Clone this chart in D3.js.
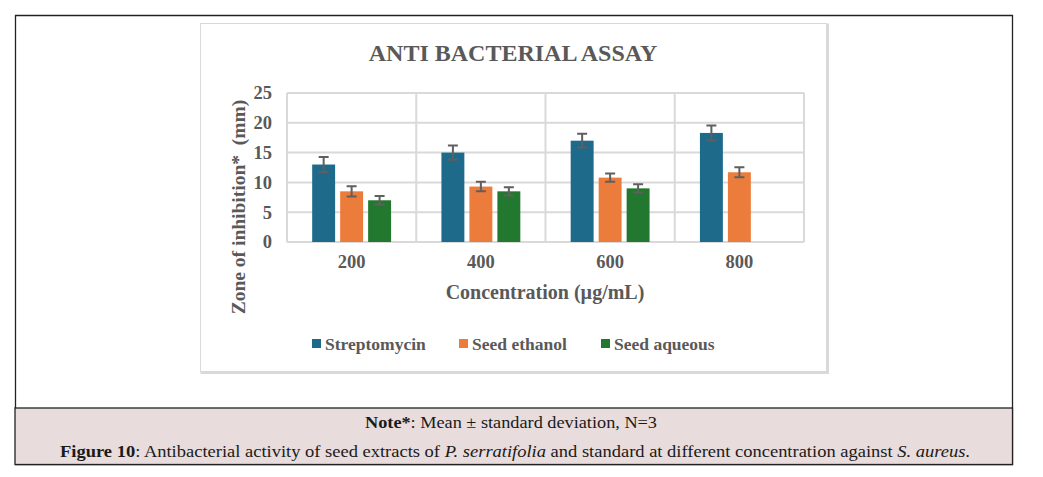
<!DOCTYPE html>
<html>
<head>
<meta charset="utf-8">
<script src="https://cdn.jsdelivr.net/npm/d3@7"></script>
<style>
  body { margin: 0; background: #fff; }
  svg { display: block; }
</style>
</head>
<body>
<svg id="fig" width="1043" height="477"></svg>
<script>
// concentrations (ug/mL) and the three extracts
var concentrations = ['200', '400', '600', '800'];
var seriesNames = ['Streptomycin', 'Seed ethanol', 'Seed aqueous'];
var seriesColors = ['#1d6a8b', '#ec7c3b', '#22782e'];

// mean zone of inhibition (mm), null where no bar was drawn
var streptomycin = [13.0, 15.0, 17.0, 18.3];
var seedEthanol = [8.5, 9.3, 10.8, 11.7];
var seedAqueous = [7.0, 8.5, 9.0, null];

// standard deviations
var streptomycinSd = [1.25, 1.2, 1.15, 1.25];
var seedEthanolSd = [0.85, 0.8, 0.7, 0.85];
var seedAqueousSd = [0.7, 0.7, 0.7, null];

var yTicks = [0, 5, 10, 15, 20, 25];

var svg = d3.select('#fig');
var serif = '"Liberation Serif", "Times New Roman", serif';
var grey = '#595959';

// outer page frame
svg.append('path')
  .attr('d', 'M15.5 408 V15.5 H1012.5 V464.5 H15')
  .style('fill', 'none').style('stroke', '#222').style('stroke-width', 1.3);

// caption strip
svg.append('rect')
  .attr('x', 15).attr('y', 408).attr('width', 997.5).attr('height', 56.5)
  .style('fill', '#e8dcdc').style('stroke', '#222').style('stroke-width', 1.3);

// chart box, heavier at right/bottom like a shadow
svg.append('rect')
  .attr('x', 200.5).attr('y', 23.5).attr('width', 626).attr('height', 348)
  .style('fill', '#fff').style('stroke', '#d9d9d9').style('stroke-width', 1);
svg.append('path')
  .attr('d', 'M827.5 23.5 V372.5 H200.5')
  .style('fill', 'none').style('stroke', '#d9d9d9').style('stroke-width', 3);

svg.append('text')
  .attr('x', 513).attr('y', 61)
  .attr('text-anchor', 'middle')
  .style('font-family', serif).style('font-weight', 'bold')
  .style('font-size', '24px').style('fill', grey)
  .text('ANTI BACTERIAL ASSAY');

// scales
var plot = { left: 287, right: 804, top: 93, bottom: 242 };

var x0 = d3.scaleBand()
  .domain(concentrations)
  .range([plot.left, plot.right]);

var x1 = d3.scaleBand()
  .domain(seriesNames)
  .range([0, x0.bandwidth()])
  .paddingInner(0.18)
  .paddingOuter(0.9);

var y = d3.scaleLinear()
  .domain([0, 25])
  .range([plot.bottom, plot.top]);

var color = d3.scaleOrdinal().domain(seriesNames).range(seriesColors);

// gridlines
var grid = svg.append('g').attr('id', 'grid');
grid.selectAll('line.h')
  .data(yTicks)
  .enter().append('line')
  .classed('h', true)
  .attr('x1', plot.left).attr('x2', plot.right)
  .attr('y1', function(d) { return y(d); })
  .attr('y2', function(d) { return y(d); })
  .style('stroke', '#d9d9d9').style('stroke-width', 2);

var bounds = concentrations.map(function(c) { return x0(c); }).concat([plot.right]);
grid.selectAll('line.v')
  .data(bounds)
  .enter().append('line')
  .classed('v', true)
  .attr('x1', function(d) { return d; }).attr('x2', function(d) { return d; })
  .attr('y1', plot.top).attr('y2', plot.bottom)
  .style('stroke', '#d9d9d9').style('stroke-width', 2);

// y axis labels
var yAxis = d3.axisLeft(y).tickValues(yTicks).tickSize(0).tickPadding(15);
var yG = svg.append('g')
  .attr('transform', 'translate(' + plot.left + ',0)')
  .call(yAxis);
yG.select('.domain').remove();
yG.selectAll('text')
  .style('font-family', serif).style('font-weight', 'bold')
  .style('font-size', '18.5px').style('fill', grey);

// x axis labels
var xAxis = d3.axisBottom(x0).tickSize(0).tickPadding(13);
var xG = svg.append('g')
  .attr('transform', 'translate(0,' + plot.bottom + ')')
  .call(xAxis);
xG.select('.domain').remove();
xG.selectAll('text')
  .style('font-family', serif).style('font-weight', 'bold')
  .style('font-size', '18.5px').style('fill', grey);

// bars + error bars
var means = [streptomycin, seedEthanol, seedAqueous];
var sds = [streptomycinSd, seedEthanolSd, seedAqueousSd];
var rows = [];
seriesNames.forEach(function(s, i) {
  concentrations.forEach(function(c, j) {
    if (means[i][j] == null) return;
    rows.push({ series: s, conc: c, value: means[i][j], sd: sds[i][j] });
  });
});

var bars = svg.append('g').attr('id', 'bars');
bars.selectAll('rect')
  .data(rows)
  .enter().append('rect')
  .attr('x', function(d) { return x0(d.conc) + x1(d.series); })
  .attr('y', function(d) { return y(d.value); })
  .attr('width', x1.bandwidth())
  .attr('height', function(d) { return y(0) - y(d.value); })
  .style('fill', function(d) { return color(d.series); });

var err = svg.append('g').attr('id', 'errors')
  .style('stroke', '#5f5f5f').style('stroke-width', 2).style('fill', 'none');
err.selectAll('path')
  .data(rows)
  .enter().append('path')
  .attr('d', function(d) {
    var cx = x0(d.conc) + x1(d.series) + x1.bandwidth() / 2;
    var hi = y(d.value + d.sd), lo = y(d.value - d.sd);
    return 'M' + (cx - 5) + ' ' + hi + ' H' + (cx + 5) +
      ' M' + cx + ' ' + hi + ' V' + lo +
      ' M' + (cx - 5) + ' ' + lo + ' H' + (cx + 5);
  });

// axis titles
svg.append('text')
  .attr('x', 545).attr('y', 299)
  .attr('text-anchor', 'middle')
  .style('font-family', serif).style('font-weight', 'bold')
  .style('font-size', '20px').style('fill', grey)
  .text('Concentration (\u00b5g/mL)');

svg.append('text')
  .attr('transform', 'translate(245,207) rotate(-90)')
  .attr('text-anchor', 'middle')
  .style('font-family', serif).style('font-weight', 'bold')
  .style('font-size', '19.5px').style('fill', grey)
  .style('white-space', 'pre')
  .text('Zone of inhibition*  (mm)');

// legend
var legendX = [312, 459, 601];
var legend = svg.append('g').attr('id', 'legend')
  .selectAll('g')
  .data(seriesNames)
  .enter().append('g')
  .attr('transform', function(d, i) { return 'translate(' + legendX[i] + ',344)'; });
legend.append('rect')
  .attr('x', 0).attr('y', -5).attr('width', 9).attr('height', 9)
  .style('fill', function(d) { return color(d); });
legend.append('text')
  .attr('x', 13).attr('y', 6)
  .style('font-family', serif).style('font-weight', 'bold')
  .style('font-size', '17.5px').style('fill', grey)
  .text(function(d) { return d; });

// caption
var cap1 = svg.append('text')
  .attr('x', 365).attr('y', 428)
  .attr('textLength', 292).attr('lengthAdjust', 'spacingAndGlyphs')
  .style('font-family', serif).style('font-size', '16px').style('fill', '#1a1a1a');
cap1.append('tspan').style('font-weight', 'bold').text('Note*');
cap1.append('tspan').text(': Mean \u00b1 standard deviation, N=3');

var cap2 = svg.append('text')
  .attr('x', 60).attr('y', 457)
  .attr('textLength', 910).attr('lengthAdjust', 'spacingAndGlyphs')
  .style('font-family', serif).style('font-size', '16.5px').style('fill', '#1a1a1a');
cap2.append('tspan').style('font-weight', 'bold').text('Figure 10');
cap2.append('tspan').text(': Antibacterial activity of seed extracts of ');
cap2.append('tspan').style('font-style', 'italic').text('P. serratifolia');
cap2.append('tspan').text(' and standard at different concentration against ');
cap2.append('tspan').style('font-style', 'italic').text('S. aureus');
cap2.append('tspan').text('.');
</script>
</body>
</html>
